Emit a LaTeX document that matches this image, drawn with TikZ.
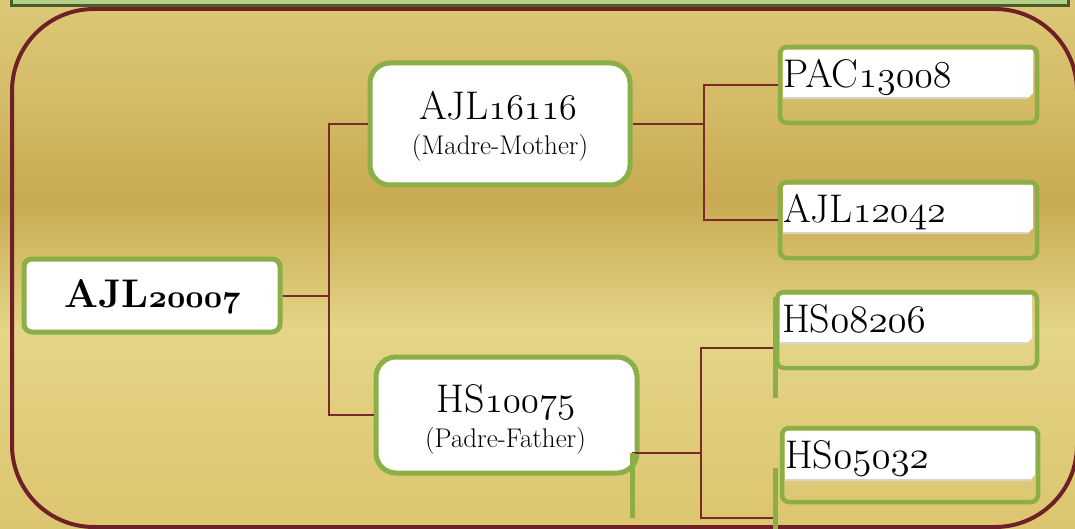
\documentclass[tikz,border=0pt]{standalone}
\usepackage{fontspec}
\DeclareFontFamily{OML}{myosf}{\skewchar\font'177}
\DeclareFontShape{OML}{myosf}{m}{it}{<-> cmmi12}{}
\DeclareFontShape{OML}{myosf}{b}{it}{<-> cmmib10}{}
\definecolor{gA}{HTML}{DCC878}
\definecolor{gB}{HTML}{D4BB66}
\definecolor{gC}{HTML}{C8AA52}
\definecolor{gD}{HTML}{E4D588}
\definecolor{gE}{HTML}{DFCB78}
\definecolor{gF}{HTML}{DCC56F}
\definecolor{boxgreen}{HTML}{8BAE47}
\definecolor{connred}{HTML}{7A2A2A}
\definecolor{frame}{HTML}{6F2027}
\definecolor{barfill}{HTML}{B4CF86}
\definecolor{bardraw}{HTML}{4A5C28}
\definecolor{shadowgray}{HTML}{D6D4CC}
\pgfdeclareverticalshading{goldbg}{100bp}{color(0bp)=(gF); color(25bp)=(gF); color(32.5bp)=(gE); color(43.8bp)=(gD); color(56.1bp)=(gC); color(65.5bp)=(gB); color(75bp)=(gA); color(100bp)=(gA)}
\newcommand\osf[2]{{\fontencoding{OML}\fontfamily{myosf}\fontseries{m}\fontshape{it}\fontsize{#1}{#1}\selectfont #2}}
\newcommand\osfb[2]{{\fontencoding{OML}\fontfamily{myosf}\fontseries{b}\fontshape{it}\fontsize{#1}{#1}\selectfont #2}}
\tikzset{
 conn/.style={draw=connred, line width=2pt},
 mainbox/.style={draw=boxgreen, fill=white, line width=5pt, rounded corners=20pt, inner sep=0pt},
 leafbox/.style={draw=boxgreen, line width=4.5pt, rounded corners=7pt, inner sep=0pt},
 glitch/.style={draw=boxgreen, line width=5pt},
 whitepart/.style={fill=white},
 bigtxt/.style={inner sep=0pt, anchor=base, font=\fontsize{40}{44}\selectfont},
 subtxt/.style={inner sep=0pt, anchor=base, font=\fontsize{27}{30}\selectfont},
 leaftxt/.style={inner sep=0pt, anchor=base west, font=\fontsize{40}{44}\selectfont},
}
\begin{document}
\begin{tikzpicture}[x=1pt,y=-1pt]
\useasboundingbox (0,0) rectangle (1075,529);
\clip (0,0) rectangle (1075,529);
\shade[shading=goldbg] (0,0) rectangle (1075,529);
% frame
\draw[frame, line width=4pt, rounded corners=82pt] (12,9) rectangle (1077,527);
% top bar
\draw[bardraw, fill=barfill, line width=3pt] (11,-10) rectangle (1068,5.5);

% leaf white parts
\fill[whitepart] (783,50) -- (1033,50) -- (1033,93) -- (1028,98) -- (783,98) -- cycle;
\draw[shadowgray, line width=1.2pt] (783,98) -- (1028,98);
\fill[whitepart] (783,185) -- (1033,185) -- (1033,228) -- (1028,233) -- (783,233) -- cycle;
\draw[shadowgray, line width=1.2pt] (783,233) -- (1028,233);
\fill[whitepart] (780,295) -- (1032,295) -- (1032,338) -- (1027,343) -- (780,343) -- cycle;
\draw[shadowgray, line width=1.2pt] (780,343) -- (1027,343);
\fill[whitepart] (785,431) -- (1035,431) -- (1035,475) -- (1030,480) -- (785,480) -- cycle;
\draw[shadowgray, line width=1.2pt] (785,480) -- (1030,480);

% boxes
\node[mainbox, rounded corners=8pt, minimum width=256pt, minimum height=73pt] (root) at (152,295.5) {};
\node[mainbox, minimum width=260pt, minimum height=122pt] (mother) at (500,124) {};
\node[mainbox, minimum width=261pt, minimum height=116pt] (father) at (506.5,415) {};
\node[leafbox, minimum width=257pt, minimum height=76pt] (pac) at (908.5,85) {};
\node[leafbox, minimum width=257pt, minimum height=76pt] (ajl12) at (908.5,220) {};
\node[leafbox, minimum width=260pt, minimum height=76pt] (hs08) at (907,330) {};
\node[leafbox, minimum width=256pt, minimum height=74pt] (hs05) at (910,465) {};

% connectors
\coordinate (j1) at (329,295.5);
\draw[conn] (root.east) -- (j1);
\draw[conn] (mother.west) -| (j1) |- (father.west);
\coordinate (j2) at (704,124);
\draw[conn] (mother.east) -- (j2);
\draw[conn] (pac.west) -| (j2) |- (ajl12.west);
\coordinate (f0) at (632,453);
\coordinate (j3) at (701,453);
\coordinate (h8) at (777,348);
\coordinate (h5) at (775,518);
\draw[conn] (f0) -- (j3);
\draw[conn] (h8) -| (j3) |- (h5);

% green stray strokes
\draw[glitch] (632,453) -- (632,518);
\draw[glitch] (775,297) -- (775,398);
\draw[glitch] (775,468) -- (775,531);

% texts
\node[bigtxt, font=\fontsize{40}{44}\selectfont\bfseries] (roott) at (152.5,307) {AJL\osfb{32}{20007}};
\node[bigtxt] (mothert) at (498,120) {AJL\osf{36}{16116}};
\node[subtxt] (mothers) at (500,155) {(Madre-Mother)};
\node[bigtxt] (fathert) at (506,412) {HS\osf{37}{10075}};
\node[subtxt] (fathers) at (505.5,447) {(Padre-Father)};
\node[leaftxt] (pact) at (783,88) {PAC\osf{38}{13008}};
\node[leaftxt] (ajl12t) at (783,223) {AJL\osf{38}{12042}};
\node[leaftxt] (hs08t) at (782,332) {HS\osf{39}{08206}};
\node[leaftxt] (hs05t) at (785,468) {HS\osf{39}{05032}};
\end{tikzpicture}
\end{document}
